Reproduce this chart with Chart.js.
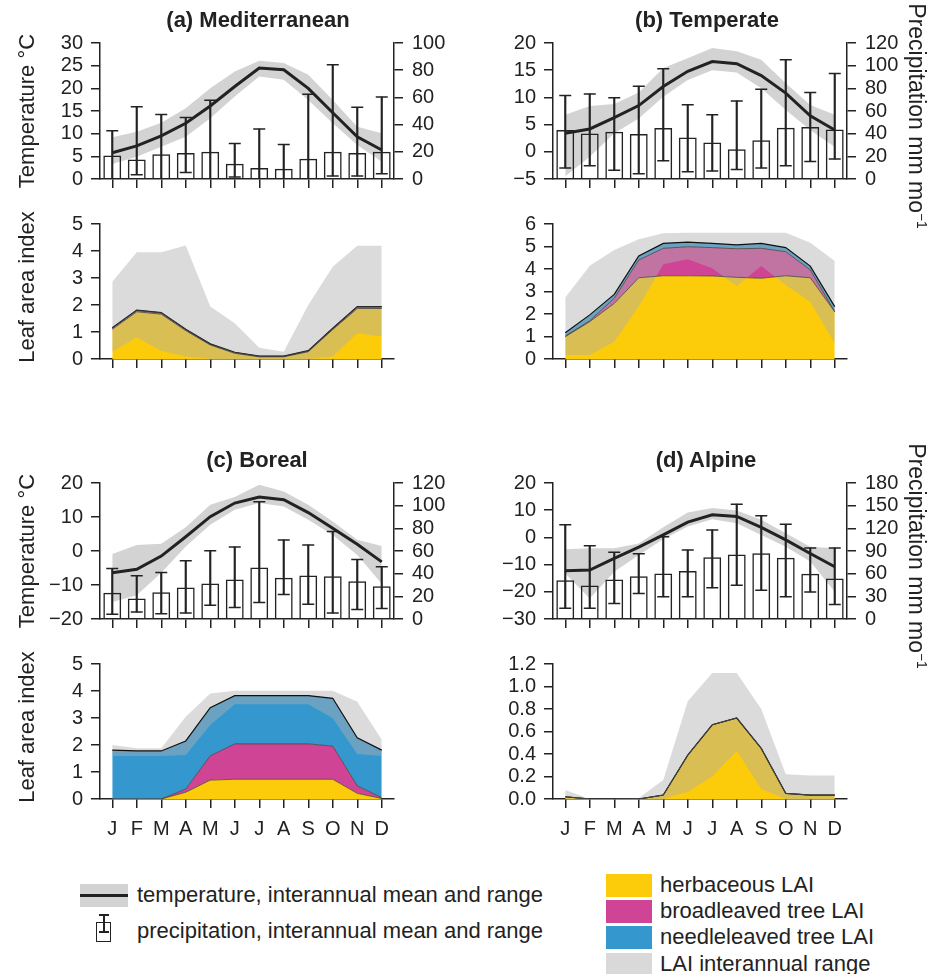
<!DOCTYPE html>
<html>
<head>
<meta charset="utf-8">
<script src="https://cdn.jsdelivr.net/npm/chart.js@4.4.1/dist/chart.umd.min.js"></script>
<style>
body { margin: 0; background: #fff; width: 928px; height: 974px; position: relative; overflow: hidden;
       font-family: "Liberation Sans", Arial, sans-serif; color: #222; }
canvas { position: absolute; }
.t { position: absolute; white-space: nowrap; line-height: 1; transform: translate(-50%, -50%); }
.lg { position: absolute; white-space: nowrap; line-height: 1; font-size: 22px; transform: translateY(-50%); }
.box { position: absolute; }
sup { font-size: 60%; vertical-align: 0.6em; line-height: 0; }
</style>
</head>
<body>
<script>
const months = ['J','F','M','A','M','J','J','A','S','O','N','D'];

// (a) Mediterranean climate
const medTemp   = [5.8, 7.3, 9.5, 12.3, 16.1, 20.4, 24.5, 24.1, 20.0, 14.6, 9.3, 6.4];
const medTempHi = [9.2, 10.4, 12.4, 15.6, 20.0, 23.7, 26.1, 25.6, 23.0, 17.4, 11.5, 10.1];
const medTempLo = [3.3, 4.9, 7.1, 9.3, 13.4, 18.2, 22.6, 21.9, 17.4, 12.3, 7.5, 3.8];
const medPrec   = [17.2, 14.3, 18.2, 19.2, 20.0, 11.3, 8.1, 7.6, 14.8, 20.0, 19.2, 20.0];
const medPrecHi = [35.5, 53.2, 47.5, 45.3, 57.9, 26.1, 36.7, 25.4, 62.3, 84.0, 52.7, 60.3];
const medPrecLo = [0, 3.2, 0, 4.7, 0, 1.5, 0, 0, 0, 2.2, 2.2, 3.9];

// (b) Temperate climate
const temTemp   = [3.4, 4.2, 6.3, 8.5, 12.0, 14.8, 16.6, 16.2, 14.0, 10.8, 6.6, 4.0];
const temTempHi = [6.8, 8.4, 8.8, 10.9, 15.4, 17.2, 19.1, 18.5, 16.9, 12.6, 8.6, 6.8];
const temTempLo = [-4.5, -0.9, 3.4, 6.1, 10.1, 13.2, 15.0, 14.6, 11.7, 7.7, 4.0, 0.9];
const temPrec   = [43.2, 40.2, 41.7, 39.6, 44.9, 36.7, 32.2, 26.3, 34.3, 45.2, 45.8, 43.7];
const temPrecHi = [73.6, 75.1, 71.8, 81.9, 97.2, 65.6, 56.8, 68.9, 79.2, 105.2, 76.3, 93.1];
const temPrecLo = [9.8, 11.8, 7.7, 4.7, 16.0, 6.5, 7.1, 8.3, 9.8, 11.8, 15.4, 17.7];

// (c) Boreal climate
const borTemp   = [-6.4, -5.4, -1.5, 4.2, 10.1, 14.1, 15.9, 15.1, 11.3, 6.7, 2.0, -3.2];
const borTempHi = [-0.9, 1.8, 2.1, 7.0, 13.6, 15.9, 19.5, 17.5, 13.6, 8.7, 3.3, 1.5];
const borTempLo = [-15.0, -13.0, -6.4, 1.3, 7.7, 12.1, 14.1, 13.1, 9.2, 4.7, -1.2, -9.6];
const borPrec   = [23.1, 18.0, 23.6, 27.8, 31.3, 34.9, 45.5, 36.4, 38.4, 37.8, 33.4, 29.0];
const borPrecHi = [44.6, 38.1, 41.1, 51.4, 60.3, 63.6, 103.5, 69.8, 65.3, 77.2, 52.6, 46.1];
const borPrecLo = [4.1, 6.2, 4.7, 5.3, 12.1, 10.1, 14.5, 21.6, 13.0, 5.3, 8.3, 9.2];

// (d) Alpine climate
const alpTemp   = [-12.3, -12.0, -7.7, -3.6, 0.9, 5.6, 8.3, 7.7, 3.7, -0.9, -5.9, -10.8];
const alpTempHi = [-4.4, -4.0, -4.0, -2.2, 3.7, 9.2, 10.8, 9.9, 6.5, 1.5, -3.4, -4.0];
const alpTempLo = [-13.3, -22.5, -12.6, -6.5, -0.7, 4.0, 6.7, 5.2, 0.9, -3.4, -8.9, -20.0];
const alpPrec   = [51.4, 44.3, 52.3, 56.7, 60.3, 63.4, 81.6, 85.5, 86.9, 81.1, 59.8, 53.6];
const alpPrecHi = [124.6, 97.1, 88.2, 86.4, 109.0, 91.3, 117.9, 152.0, 136.5, 125.4, 94.0, 94.0];
const alpPrecLo = [14.2, 14.2, 20.4, 33.7, 29.3, 29.3, 41.2, 44.8, 38.1, 29.3, 35.9, 19.1];

// leaf area index layers (herbaceous, broadleaved, needleleaved) and interannual range of the total
const medHerb   = [1.10, 1.75, 1.66, 1.05, 0.52, 0.21, 0.08, 0.08, 0.27, 1.09, 1.87, 1.87];
const medBroad  = [0.05, 0.05, 0.05, 0.04, 0.03, 0.03, 0.02, 0.02, 0.03, 0.04, 0.06, 0.06];
const medNeedle = [0.01, 0.01, 0.01, 0.01, 0.01, 0.01, 0.01, 0.01, 0.01, 0.01, 0.01, 0.01];
const medLaiLo  = [0.27, 0.80, 0.31, 0.09, 0, 0, 0, 0, 0, 0.09, 0.95, 0.83];
const medLaiHi  = [2.86, 3.95, 3.95, 4.20, 1.94, 1.32, 0.42, 0.27, 2.00, 3.42, 4.19, 4.19];

const temHerb   = [0.99, 1.66, 2.47, 3.61, 3.70, 3.70, 3.69, 3.63, 3.59, 3.70, 3.61, 2.10];
const temBroad  = [0.03, 0.04, 0.23, 0.79, 1.22, 1.29, 1.26, 1.27, 1.33, 1.07, 0.35, 0.00];
const temNeedle = [0.15, 0.26, 0.17, 0.18, 0.22, 0.20, 0.19, 0.17, 0.22, 0.18, 0.17, 0.23];
const temLaiLo  = [0.18, 0.18, 0.77, 2.33, 4.21, 4.43, 4.03, 3.24, 4.13, 3.29, 2.55, 0.70];
const temLaiHi  = [2.73, 4.15, 4.84, 5.32, 5.59, 5.61, 5.61, 5.61, 5.61, 5.61, 5.17, 4.36];

const borHerb   = [0, 0, 0, 0.25, 0.70, 0.73, 0.73, 0.73, 0.73, 0.73, 0.21, 0.02];
const borBroad  = [0, 0, 0, 0.12, 0.90, 1.31, 1.31, 1.31, 1.31, 1.23, 0.28, 0.03];
const borNeedle = [1.81, 1.78, 1.78, 1.78, 1.78, 1.79, 1.79, 1.79, 1.79, 1.77, 1.78, 1.76];
const borLaiLo  = [1.59, 1.59, 1.59, 1.63, 2.74, 3.51, 3.51, 3.51, 3.51, 2.99, 1.67, 1.59];
const borLaiHi  = [2.00, 1.88, 1.88, 3.05, 3.91, 4.01, 4.01, 4.01, 4.01, 4.01, 3.60, 2.19];

const alpHerb   = [0.02, 0, 0, 0, 0.035, 0.39, 0.66, 0.72, 0.45, 0.05, 0.035, 0.035];
const alpBroad  = [0, 0, 0, 0, 0, 0, 0, 0, 0, 0, 0, 0];
const alpNeedle = [0, 0, 0, 0, 0, 0, 0, 0, 0, 0, 0, 0];
const alpLaiLo  = [0, 0, 0, 0, 0, 0.065, 0.20, 0.43, 0.09, 0, 0, 0];
const alpLaiHi  = [0.08, 0, 0, 0.01, 0.17, 0.87, 1.12, 1.12, 0.80, 0.22, 0.21, 0.21];

const ink = '#222';
const yellow = '#fccb0a';
const pink = '#d04496';
const blue = '#3498cf';

Chart.defaults.font.family = '"Liberation Sans", Arial, sans-serif';
Chart.defaults.font.size = 20;
Chart.defaults.color = ink;
Chart.defaults.animation = false;
Chart.defaults.plugins.legend.display = false;
Chart.defaults.plugins.tooltip.enabled = false;

function makeCanvas(left, top, w, h) {
  const c = document.createElement('canvas');
  c.width = w; c.height = h;
  c.style.left = left + 'px'; c.style.top = top + 'px';
  c.style.width = w + 'px'; c.style.height = h + 'px';
  document.body.appendChild(c);
  return c;
}

const minus = v => String(v).replace('-', '\u2212');

function xAxis(showLabels, h) {
  return {
    type: 'category', offset: true,
    grid: { offset: false, drawOnChartArea: false, tickLength: 9, color: ink, lineWidth: 1.5 },
    border: { color: ink, width: 1.5 },
    ticks: { display: showLabels, autoSkip: false, maxRotation: 0, padding: 9 },
    afterFit: s => { s.height = h; }
  };
}

function yAxis(pos, min, max, step, width, fmt) {
  return {
    position: pos, min: min, max: max,
    grid: { drawOnChartArea: false, tickLength: 9, color: ink, lineWidth: 1.5 },
    border: { color: ink, width: 1.5 },
    ticks: { stepSize: step, autoSkip: false, padding: pos === 'left' ? 8 : 9,
             callback: v => fmt ? fmt(v) : minus(v) },
    afterFit: s => { s.width = width; }
  };
}

function climate(left, top, w, rightW, t, tHi, tLo, p, pHi, pLo, tMin, tMax, tStep, pMax, pStep) {
  const c = makeCanvas(left, top, w, 200);
  const cap = (data) => ({ type: 'line', data: data, yAxisID: 'yP', showLine: false, pointStyle: 'line',
    pointRadius: 6, pointBorderWidth: 1.5, pointBorderColor: ink, order: 1 });
  new Chart(c, {
    type: 'bar',
    data: {
      labels: months,
      datasets: [
        { type: 'line', data: tLo, yAxisID: 'yT', borderWidth: 0, pointRadius: 0, fill: false, order: 5 },
        { type: 'line', data: tHi, yAxisID: 'yT', borderWidth: 0, pointRadius: 0, fill: { target: 0 },
          backgroundColor: 'rgb(211,211,211)', order: 4 },
        { type: 'bar', data: p, yAxisID: 'yP', grouped: false, backgroundColor: 'rgba(0,0,0,0)',
          borderColor: ink, borderWidth: 1.5, categoryPercentage: 1, barPercentage: 0.73, order: 3 },
        { type: 'bar', data: pLo.map((v, i) => [v, pHi[i]]), yAxisID: 'yP', grouped: false,
          backgroundColor: ink, barThickness: 1.5, order: 2 },
        cap(pHi),
        cap(pLo),
        { type: 'line', data: t, yAxisID: 'yT', borderColor: ink, borderWidth: 3, pointRadius: 0, fill: false, order: 0 }
      ]
    },
    options: {
      responsive: false,
      layout: { padding: { top: 43 } },
      scales: {
        x: xAxis(false, 21),
        yT: yAxis('left', tMin, tMax, tStep, 100),
        yP: yAxis('right', 0, pMax, pStep, rightW)
      }
    }
  });
}

function lai(left, top, w, h, rightPad, xh, showMonths, herb, broad, needle, lo, hi, max, step, fmt) {
  const c = makeCanvas(left, top, w, h);
  const layer = (data, color, fill) => ({ data: data, yAxisID: 'y', backgroundColor: color, borderWidth: 0,
    pointRadius: 0, fill: fill, order: 10 });
  const edge = (data, width, color) => ({ data: data, yAxisID: 'y3', borderColor: color, borderWidth: width,
    pointRadius: 0, fill: false, order: 0 });
  new Chart(c, {
    type: 'line',
    data: {
      labels: months,
      datasets: [
        layer(herb, yellow, 'origin'),
        layer(broad, pink, '-1'),
        layer(needle, blue, '-1'),
        { data: lo, yAxisID: 'y2', borderWidth: 0, pointRadius: 0, fill: false, order: 5 },
        { data: hi, yAxisID: 'y2', borderWidth: 0, pointRadius: 0, fill: { target: 3 },
          backgroundColor: 'rgba(175,175,175,0.45)', order: 5 },
        edge(herb, 0.8, '#444'),
        edge(broad, 0.8, '#444'),
        edge(needle, 1.2, '#111')
      ]
    },
    options: {
      responsive: false,
      layout: { padding: { top: 24, right: rightPad } },
      scales: {
        x: xAxis(showMonths, xh),
        y: Object.assign(yAxis('left', 0, max, step, 100, fmt), { stacked: true }),
        y2: { display: false, min: 0, max: max },
        y3: { display: false, min: 0, max: max, stacked: true }
      }
    }
  });
}

climate(0, 0, 460, 66, medTemp, medTempHi, medTempLo, medPrec, medPrecHi, medPrecLo, 0, 30, 5, 100, 20);
climate(453, 0, 475, 81, temTemp, temTempHi, temTempLo, temPrec, temPrecHi, temPrecLo, -5, 20, 5, 120, 20);
climate(0, 440, 460, 66, borTemp, borTempHi, borTempLo, borPrec, borPrecHi, borPrecLo, -20, 20, 10, 120, 20);
climate(453, 440, 475, 81, alpTemp, alpTempHi, alpTempLo, alpPrec, alpPrecHi, alpPrecLo, -30, 20, 10, 180, 30);

lai(0, 200, 460, 200, 66, 41, false, medHerb, medBroad, medNeedle, medLaiLo, medLaiHi, 5, 1);
lai(453, 200, 475, 200, 81, 41, false, temHerb, temBroad, temNeedle, temLaiLo, temLaiHi, 6, 1);
lai(0, 640, 460, 210, 66, 51, true, borHerb, borBroad, borNeedle, borLaiLo, borLaiHi, 5, 1);
lai(453, 640, 475, 210, 81, 51, true, alpHerb, alpBroad, alpNeedle, alpLaiLo, alpLaiHi, 1.2, 0.2, v => v.toFixed(1));

function text(html, x, y, size, extra) {
  const d = document.createElement('div');
  d.className = 't';
  d.innerHTML = html;
  d.style.left = x + 'px'; d.style.top = y + 'px';
  d.style.fontSize = size + 'px';
  if (extra) Object.assign(d.style, extra);
  document.body.appendChild(d);
}
text('(a) Mediterranean', 258, 20, 22, { fontWeight: 'bold' });
text('(b) Temperate', 707, 20, 22, { fontWeight: 'bold' });
text('(c) Boreal', 257, 460, 22, { fontWeight: 'bold' });
text('(d) Alpine', 706, 460, 22, { fontWeight: 'bold' });
const up = { transform: 'translate(-50%, -50%) rotate(-90deg)' };
const down = { transform: 'translate(-50%, -50%) rotate(90deg)' };
text('Temperature °C', 27, 111, 22, up);
text('Temperature °C', 27, 551, 22, up);
text('Leaf area index', 27, 287, 22, up);
text('Leaf area index', 27, 727, 22, up);
text('Precipitation mm mo<sup>\u22121</sup>', 916, 116, 23, down);
text('Precipitation mm mo<sup>\u22121</sup>', 916, 556, 23, down);

function box(x, y, w, h, style) {
  const d = document.createElement('div');
  d.className = 'box';
  Object.assign(d.style, { left: x + 'px', top: y + 'px', width: w + 'px', height: h + 'px' }, style || {});
  document.body.appendChild(d);
}
function legendText(s, x, y) {
  const d = document.createElement('div');
  d.className = 'lg';
  d.textContent = s;
  d.style.left = x + 'px'; d.style.top = y + 'px';
  document.body.appendChild(d);
}
// temperature legend
box(80, 884, 48, 23, { background: 'rgb(211,211,211)' });
box(80, 894, 48, 3, { background: ink });
legendText('temperature, interannual mean and range', 137, 895);
// precipitation legend
box(96, 922, 15, 20, { border: '1.5px solid ' + ink, boxSizing: 'border-box' });
box(103, 914, 1.5, 18, { background: ink });
box(99, 914, 10, 1.5, { background: ink });
box(99, 931, 10, 1.5, { background: ink });
legendText('precipitation, interannual mean and range', 137, 931);
// LAI legend
box(606, 874, 46, 23, { background: yellow });
box(606, 900, 46, 23, { background: pink });
box(606, 926, 46, 23, { background: blue });
box(606, 953, 46, 23, { background: '#d9d9d9' });
legendText('herbaceous LAI', 660, 885);
legendText('broadleaved tree LAI', 660, 911);
legendText('needleleaved tree LAI', 660, 937);
legendText('LAI interannual range', 660, 964);
</script>
</body>
</html>
